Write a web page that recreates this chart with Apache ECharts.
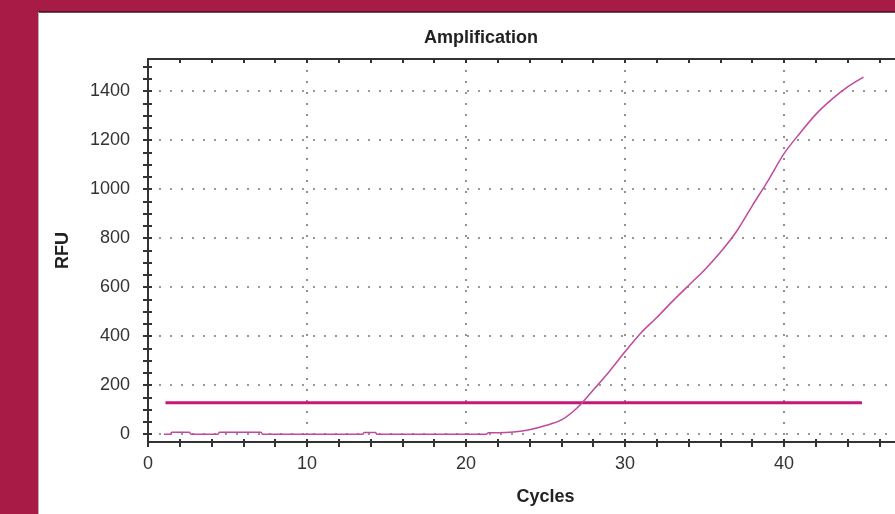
<!DOCTYPE html>
<html><head><meta charset="utf-8">
<script src="https://cdn.jsdelivr.net/npm/echarts@6/dist/echarts.min.js"></script>
<style>html,body{margin:0;padding:0;background:#A91B47;overflow:hidden}#c{width:895px;height:514px}</style>
</head><body><div id="c"></div>
<script>
const cycles = [1, 1.4, 1.5, 2.6, 2.7, 3, 4, 4.4, 4.5, 7.1, 7.2, 8, 9, 10, 11, 12, 13, 13.5, 13.6, 14.3, 14.4, 15, 16, 17, 18, 19, 20, 21, 21.3, 21.4, 22, 23, 24, 25, 26, 27, 28, 29, 30, 31, 32, 33, 34, 35, 36, 37, 38, 39, 40, 41, 42, 43, 44, 45];
const rfu = [0, 0, 8, 8, 0, 0, 0, 0, 8, 8, 0, 0, 0, 0, 0, 0, 0, 0, 7, 7, 0, 0, 0, 0, 0, 0, 0, 0, 0, 6, 6, 9, 18, 35, 58, 108, 180, 255, 336, 413, 476, 543, 607, 670, 742, 826, 932, 1035, 1145, 1228, 1305, 1366, 1417, 1457];
const thresholdCycles = [1.1, 44.9];
const thresholdValue = 128;
const xMinorTicks = [0,2,4,6,8,10,12,14,16,18,20,22,24,26,28,30,32,34,36,38,40,42,44,46,48,50];
const yTickLabels = [0, 200, 400, 600, 800, 1000, 1200, 1400];
const yMinorTicks = [0,50,100,150,200,250,300,350,400,450,500,550,600,650,700,750,800,850,900,950,1000,1050,1100,1150,1200,1250,1300,1350,1400,1450,1500];

const FONT = 'Liberation Sans';
const chart = echarts.init(document.getElementById('c'), null, {renderer: 'canvas'});
const axisLine = {show: true, onZero: false, lineStyle: {color: '#333', width: 2}};
const dotted = {show: true, lineStyle: {color: '#777', width: 1.6, type: [2, 9]}};
const xBase = {type: 'value', min: 0, max: 50, interval: 10, gridIndex: 0};
const yBase = {type: 'value', min: -32, max: 1531, splitNumber: 8, gridIndex: 0};
const tickStyle = {color: '#333', width: 2};
const noLabel = {show: false};
const noSplit = {show: false};

chart.setOption({
  backgroundColor: '#A91B47',
  animation: false,
  graphic: [
    {type: 'rect', shape: {x: 38, y: 12, width: 900, height: 520}, style: {fill: '#ffffff'}, z: -10},
    {type: 'line', shape: {x1: 38, y1: 12, x2: 895, y2: 12}, style: {stroke: '#3a1422', lineWidth: 1.5}, z: -9},
    {type: 'line', shape: {x1: 38.5, y1: 12, x2: 38.5, y2: 514}, style: {stroke: '#b0b0b0', lineWidth: 1}, z: -9}
  ],
  title: {
    text: 'Amplification', left: 424, top: 29, padding: 0,
    textStyle: {fontFamily: FONT, fontSize: 18, fontWeight: 'bold', color: '#222'}
  },
  grid: {left: 148, top: 59, width: 795, height: 383, containLabel: false, outerBoundsMode: 'none'},
  xAxis: [
    Object.assign({}, xBase, {
      position: 'bottom', name: 'Cycles', nameLocation: 'middle', nameGap: 46,
      nameTextStyle: {fontFamily: FONT, fontSize: 18, fontWeight: 'bold', color: '#222'},
      axisLine: axisLine,
      axisTick: {show: false},
      axisLabel: {show: true, margin: 13, fontFamily: FONT, fontSize: 18, color: '#333', showMaxLabel: false},
      splitLine: dotted
    }),
    Object.assign({}, xBase, {
      position: 'bottom', axisLine: axisLine,
      axisTick: {show: true, inside: false, length: 5, customValues: xMinorTicks, lineStyle: tickStyle},
      axisLabel: noLabel, splitLine: noSplit
    }),
    Object.assign({}, xBase, {
      position: 'bottom', axisLine: axisLine,
      axisTick: {show: true, inside: true, length: 3, customValues: xMinorTicks, lineStyle: tickStyle},
      axisLabel: noLabel, splitLine: noSplit
    }),
    Object.assign({}, xBase, {
      position: 'top', axisLine: axisLine,
      axisTick: {show: true, inside: true, length: 4, customValues: xMinorTicks, lineStyle: tickStyle},
      axisLabel: noLabel, splitLine: noSplit
    })
  ],
  yAxis: [
    Object.assign({}, yBase, {
      position: 'left', name: 'RFU', nameLocation: 'middle', nameGap: 76, nameRotate: 90,
      nameTextStyle: {fontFamily: FONT, fontSize: 18, fontWeight: 'bold', color: '#222'},
      axisLine: axisLine,
      axisTick: {show: false},
      axisLabel: {show: true, margin: 18, fontFamily: FONT, fontSize: 18, color: '#333',
        customValues: yTickLabels, formatter: v => String(v)},
      splitLine: dotted
    }),
    Object.assign({}, yBase, {
      position: 'left', axisLine: axisLine,
      axisTick: {show: true, inside: false, length: 5, customValues: yMinorTicks, lineStyle: tickStyle},
      axisLabel: noLabel, splitLine: noSplit
    }),
    Object.assign({}, yBase, {
      position: 'left', axisLine: axisLine,
      axisTick: {show: true, inside: true, length: 4, customValues: yMinorTicks, lineStyle: tickStyle},
      axisLabel: noLabel, splitLine: noSplit
    })
  ],
  series: [
    {
      name: 'Threshold', type: 'line', xAxisIndex: 0, yAxisIndex: 0,
      data: thresholdCycles.map(c => [c, thresholdValue]),
      showSymbol: false, lineStyle: {color: '#C4177A', width: 3}, z: 3
    },
    {
      name: 'Amplification', type: 'line', xAxisIndex: 0, yAxisIndex: 0,
      data: cycles.map((c, i) => [c, rfu[i]]),
      smooth: 0.3,
      showSymbol: false, lineStyle: {color: '#C2489C', width: 1.5}, z: 4
    }
  ]
});
</script></body></html>
